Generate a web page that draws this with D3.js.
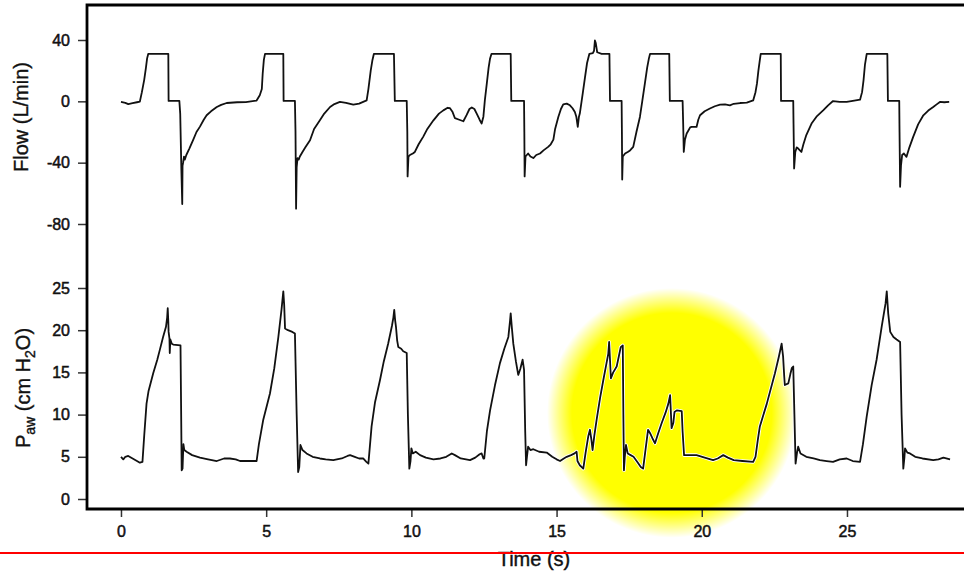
<!DOCTYPE html>
<html>
<head>
<meta charset="utf-8">
<script src="https://cdn.jsdelivr.net/npm/d3@7"></script>
<style>
  body { margin: 0; background: #fff; }
  svg { display: block; font-family: "Liberation Sans", Arial, sans-serif; }
</style>
</head>
<body>
<div id="chart"></div>
<script>
var width = 964;
var height = 572;

// tick labels
var timeTicks = [0, 5, 10, 15, 20, 25];
var flowTicks = [40, 0, -40, -80];
var pawTicks = [0, 5, 10, 15, 20, 25];

// flow (L/min) vs time (s)
var flowSeries = [
  [0.00,-0.4],[0.15,-1.0],[0.25,-1.8],[0.40,-1.2],[0.55,-0.6],[0.65,-0.2],[0.72,6],[0.80,14],[0.86,22],[0.90,28],[0.94,31],
  [1.63,31],[1.64,0.3],[2.01,0.3],[2.04,-8],[2.08,-45],[2.11,-67],[2.12,-42],[2.14,-40],[2.17,-36],[2.20,-38],[2.25,-35],
  [2.35,-31],[2.49,-25],[2.60,-20],[2.72,-16.5],[2.85,-12],[2.95,-9.1],[3.10,-6.5],[3.30,-3.7],[3.45,-2.3],[3.64,-1.1],
  [4.00,-0.6],[4.30,-0.5],[4.67,0.5],[4.78,4],[4.85,8],[4.88,18],[4.92,27],[4.96,31],[5.59,31],[5.60,0.3],[5.99,0.3],
  [6.01,-20],[6.03,-70],[6.05,-43],[6.08,-37],[6.12,-38],[6.16,-36],[6.25,-33],[6.35,-30],[6.51,-25.4],[6.65,-18],
  [6.85,-12.4],[7.00,-8],[7.20,-3.7],[7.35,-1.8],[7.54,-0.4],[7.75,-1],[8.00,-2.2],[8.20,-1.5],[8.46,0.6],
  [8.52,8],[8.60,20],[8.66,27],[8.71,31],[9.40,31],[9.43,0.3],[9.84,0.3],[9.86,-20],[9.87,-49],[9.90,-36],[9.95,-35],
  [10.05,-34],[10.12,-33],[10.25,-28],[10.41,-23],[10.55,-18],[10.76,-12.4],[10.95,-8],[11.10,-5.9],[11.25,-4.2],
  [11.33,-4.5],[11.42,-7],[11.50,-11],[11.65,-12],[11.79,-13],[11.90,-9],[12.00,-5],[12.08,-4],[12.17,-5],[12.25,-8],
  [12.35,-12],[12.42,-14.5],[12.48,-10],[12.53,0.6],[12.60,12],[12.66,22],[12.71,28],[12.76,31],[13.42,31],[13.44,0.3],
  [13.88,0.3],[13.89,-20],[13.90,-49],[13.93,-36],[14.02,-34],[14.10,-36],[14.20,-37],[14.30,-35],[14.43,-34],
  [14.55,-32],[14.71,-29.7],[14.80,-28],[14.89,-25],[14.95,-18],[15.06,-10.2],[15.15,-5],[15.23,-2],[15.35,-1.5],
  [15.46,-2.6],[15.55,-4.5],[15.63,-7],[15.68,-10],[15.73,-16.7],[15.77,-10],[15.80,-8],[15.90,5],[15.98,15.8],
  [16.05,25],[16.13,31],[16.25,31.5],[16.29,33],[16.32,39.7],[16.35,38],[16.40,32],[16.55,31],[16.82,31],[16.84,0.3],
  [17.24,0.3],[17.25,-20],[17.26,-51],[17.28,-36],[17.36,-34],[17.45,-33],[17.53,-32],[17.64,-29.7],[17.75,-20],
  [17.87,-10.2],[17.95,0],[18.04,11.5],[18.12,22],[18.18,28],[18.22,31],[18.88,31],[18.90,0.3],[19.34,0.3],
  [19.36,-15],[19.38,-33],[19.42,-25],[19.48,-21],[19.54,-19],[19.60,-17],[19.65,-16.7],[19.82,-16.7],[19.88,-12],
  [19.94,-9.1],[20.10,-6.5],[20.28,-4.7],[20.45,-3.2],[20.63,-2.1],[20.80,-2.0],[20.97,-2.6],[21.10,-1.6],[21.32,-1.1],
  [21.55,-0.8],[21.77,0.6],[21.85,6],[21.90,11.5],[21.95,20],[22.00,27],[22.03,31],[22.72,31],[22.73,0.3],[23.15,0.3],
  [23.16,-15],[23.18,-43.8],[23.22,-33],[23.27,-30],[23.32,-30.8],[23.38,-32],[23.43,-33],[23.50,-28],[23.60,-22],
  [23.78,-14.5],[23.95,-10],[24.18,-5.9],[24.35,-2.6],[24.52,0.2],[24.75,-0.3],[24.99,-0.4],[25.20,0.3],[25.45,1.1],
  [25.52,6],[25.57,13.7],[25.62,24],[25.68,31],[26.39,31],[26.41,0.3],[26.80,0.3],[26.81,-20],[26.83,-55.7],
  [26.86,-42],[26.90,-35],[26.96,-34],[27.05,-36.2],[27.15,-30],[27.28,-23.2],[27.45,-15],[27.63,-9.1],[27.80,-6],
  [27.97,-3.7],[28.10,-1.8],[28.20,-0.4],[28.35,-0.6],[28.52,-0.4]
];

// airway pressure (cm H2O) vs time (s)
var pawSeries = [
  [0.00,5.0],[0.08,4.7],[0.15,5.0],[0.25,5.1],[0.40,4.8],[0.55,4.5],[0.65,4.3],[0.74,4.4],[0.80,7.5],[0.88,11.3],
  [0.95,12.8],[1.11,14.9],[1.25,16.5],[1.34,17.7],[1.45,19.2],[1.55,20.4],[1.59,21.5],[1.61,22.6],[1.63,21],[1.64,19.8],
  [1.67,19.0],[1.68,17.3],[1.70,18.9],[1.75,18.4],[1.80,18.3],[2.05,18.2],[2.07,11],[2.09,3.4],[2.12,3.6],[2.15,6.5],
  [2.18,5.8],[2.26,5.6],[2.45,5.2],[2.72,4.9],[3.00,4.7],[3.30,4.5],[3.55,4.8],[3.75,4.8],[3.95,4.7],[4.10,4.5],
  [4.40,4.5],[4.67,4.5],[4.75,6.5],[4.90,9.4],[5.13,12.5],[5.28,15.5],[5.42,19.2],[5.53,22.5],[5.59,24.6],[5.62,23],
  [5.65,20.2],[5.75,20.0],[5.90,19.8],[5.99,19.6],[6.05,10],[6.10,3.2],[6.14,3.8],[6.18,6.4],[6.25,5.8],[6.39,5.4],
  [6.60,5.0],[6.85,4.8],[7.05,4.7],[7.31,4.6],[7.60,4.8],[7.80,5.1],[7.89,5.2],[8.05,5.0],[8.20,4.8],[8.34,4.8],
  [8.45,4.4],[8.52,4.2],[8.63,8.6],[8.75,11.5],[8.92,14.1],[9.05,16.3],[9.20,18.4],[9.33,20.5],[9.38,21.5],[9.41,22.4],
  [9.44,21.2],[9.47,20.4],[9.51,18.8],[9.55,18.0],[9.65,17.8],[9.72,17.5],[9.84,17.3],[9.88,10],[9.93,3.6],[9.97,4.5],
  [10.00,6.0],[10.05,5.4],[10.15,5.6],[10.30,5.2],[10.50,4.9],[10.76,4.7],[11.00,4.8],[11.20,5.0],[11.39,5.4],
  [11.50,5.2],[11.70,4.8],[12.02,4.6],[12.20,4.9],[12.35,5.3],[12.42,5.4],[12.48,4.8],[12.51,4.8],[12.60,8],
  [12.71,10.5],[12.88,13.5],[13.05,16.1],[13.20,17.8],[13.34,19.2],[13.40,21.2],[13.42,22.0],[13.46,20.3],[13.51,18.4],
  [13.60,16.3],[13.68,14.7],[13.75,15.4],[13.83,16.5],[13.86,15.8],[13.88,15.3],[13.92,8],[13.95,4.0],[13.98,5],
  [14.02,6.2],[14.10,5.8],[14.20,5.9],[14.40,5.6],[14.66,5.5],[14.85,5.0],[15.00,4.7],[15.12,4.5],[15.25,4.8],
  [15.35,5.0],[15.50,5.2],[15.62,5.4],[15.69,5.6],[15.72,4.5],[15.80,4.0],[15.92,3.6],[16.00,5.5],[16.09,7.4],
  [16.15,8.2],[16.20,7.0],[16.24,5.8],[16.30,7.5],[16.38,9.4],[16.50,12],[16.61,14.1],[16.72,16.1],[16.78,17.2],
  [16.81,18.6],[16.84,16.5],[16.87,14.3],[16.95,15.0],[17.07,15.7],[17.15,17.0],[17.21,18.0],[17.28,18.2],[17.30,10],
  [17.32,3.4],[17.35,5],[17.39,6.4],[17.45,5.4],[17.55,5.2],[17.65,5.0],[17.80,4.3],[17.90,3.8],[17.98,3.6],[18.05,5.5],
  [18.15,8.2],[18.22,7.8],[18.30,7.2],[18.39,6.6],[18.50,7.8],[18.62,9.0],[18.75,10.2],[18.85,11.3],[18.91,12.3],
  [18.94,10],[18.96,8.4],[19.02,9.0],[19.06,10.3],[19.14,10.5],[19.31,10.4],[19.34,8],[19.39,5.2],[19.60,5.2],
  [19.82,5.2],[20.10,4.9],[20.39,4.6],[20.55,4.8],[20.74,5.2],[20.90,4.9],[21.10,4.6],[21.40,4.5],[21.77,4.4],
  [21.85,5.0],[21.93,7],[22.00,8.6],[22.24,11.3],[22.52,14.9],[22.65,16.8],[22.75,18.4],[22.78,17.5],[22.80,16.9],
  [22.84,14.5],[22.86,13.5],[22.98,13.7],[23.05,14.8],[23.10,15.5],[23.15,15.7],[23.19,10],[23.23,4.2],[23.28,5.5],
  [23.32,6.2],[23.40,5.4],[23.60,5.0],[23.85,4.8],[24.07,4.6],[24.30,4.5],[24.52,4.4],[24.75,4.7],[24.99,4.8],
  [25.20,4.5],[25.45,4.4],[25.55,6.5],[25.68,9.8],[25.85,13.5],[26.02,16.5],[26.20,20.5],[26.33,23.2],[26.37,24.6],
  [26.42,22],[26.49,19.8],[26.60,19.2],[26.71,18.9],[26.83,18.6],[26.88,10],[26.94,3.6],[26.98,5.0],[27.00,6.0],
  [27.08,5.5],[27.17,5.4],[27.35,5.0],[27.60,4.8],[27.97,4.6],[28.15,4.7],[28.32,4.9],[28.55,4.7]
];

// highlighted span: centre (time, paw) and radius in seconds
var highlight = { t: 18.97, paw: 10.2, r: 4.3 };

var x = d3.scaleLinear().domain([-1.17, 29.03]).range([87, 964]);
var yFlow = d3.scaleLinear().domain([-80, 40]).range([224, 40]);
var yPaw = d3.scaleLinear().domain([0, 25]).range([499, 288]);

var svg = d3.select("#chart").append("svg")
    .attr("width", width)
    .attr("height", height);

svg.append("rect").attr("width", width).attr("height", height).attr("fill", "#fff");

var defs = svg.append("defs");
var grad = defs.append("radialGradient").attr("id", "glow");
grad.append("stop").attr("offset", "0%").attr("stop-color", "#ffff00");
grad.append("stop").attr("offset", "80%").attr("stop-color", "#ffff00");
grad.append("stop").attr("offset", "100%").attr("stop-color", "#ffff00").attr("stop-opacity", 0);

var glowR = x(highlight.r) - x(0);
svg.append("circle")
    .attr("cx", x(highlight.t))
    .attr("cy", yPaw(highlight.paw))
    .attr("r", glowR)
    .attr("fill", "url(#glow)");

var flowLine = d3.line().x(d => x(d[0])).y(d => yFlow(d[1]));
var pawLine = d3.line().x(d => x(d[0])).y(d => yPaw(d[1]));

// thin white halo under the traces (only shows on the yellow)
[[flowSeries, flowLine], [pawSeries, pawLine]].forEach(function (s) {
    svg.append("path")
        .datum(s[0])
        .attr("d", s[1])
        .attr("fill", "none")
        .attr("stroke", "#fff")
        .attr("stroke-width", 3.6)
        .attr("stroke-linejoin", "round");
    svg.append("path")
        .datum(s[0])
        .attr("d", s[1])
        .attr("fill", "none")
        .attr("stroke", "#111")
        .attr("stroke-width", 1.8)
        .attr("stroke-linejoin", "round");
});

function styleAxis(g) {
    g.select(".domain").remove();
    g.selectAll(".tick line").attr("stroke", "#333").attr("stroke-width", 1.5);
    g.selectAll(".tick text")
        .attr("fill", "#111")
        .attr("stroke", "#111")
        .attr("stroke-width", 0.5)
        .style("font-size", "16px")
        .style("font-family", "'Liberation Sans', Arial, sans-serif");
}

var plain = d => String(d);

svg.append("g")
    .attr("transform", "translate(87,0)")
    .call(d3.axisLeft(yFlow).tickValues(flowTicks).tickFormat(plain).tickSize(9).tickPadding(8))
    .call(styleAxis);

svg.append("g")
    .attr("transform", "translate(87,0)")
    .call(d3.axisLeft(yPaw).tickValues(pawTicks).tickFormat(plain).tickSize(9).tickPadding(8))
    .call(styleAxis);

svg.append("g")
    .attr("transform", "translate(0,509)")
    .call(d3.axisBottom(x).tickValues(timeTicks).tickFormat(plain).tickSize(8).tickPadding(9))
    .call(styleAxis);

// frame: left, top, bottom
svg.append("path")
    .attr("d", "M964,5H87V509H964")
    .attr("fill", "none")
    .attr("stroke", "#000")
    .attr("stroke-width", 2.8);

function titleStyle(t) {
    t.attr("text-anchor", "middle")
        .style("font-size", "20px")
        .attr("fill", "#111")
        .attr("stroke", "#111")
        .attr("stroke-width", 0.4);
}

svg.append("text")
    .attr("transform", "translate(28,117) rotate(-90)")
    .call(titleStyle)
    .text("Flow (L/min)");

var pt = svg.append("text")
    .attr("transform", "translate(30,388) rotate(-90)")
    .call(titleStyle);
pt.append("tspan").text("P");
pt.append("tspan").attr("dy", 5).style("font-size", "14px").text("aw");
pt.append("tspan").attr("dy", -5).text(" (cm H");
pt.append("tspan").attr("dy", 5).style("font-size", "14px").text("2");
pt.append("tspan").attr("dy", -5).text("O)");

svg.append("text")
    .attr("x", 534)
    .attr("y", 566)
    .call(titleStyle)
    .text("Time (s)");

// red rule across the bottom
svg.append("line")
    .attr("x1", 0).attr("x2", width)
    .attr("y1", 553).attr("y2", 553)
    .attr("stroke", "#ff0000")
    .attr("stroke-width", 2);
</script>
</body>
</html>
